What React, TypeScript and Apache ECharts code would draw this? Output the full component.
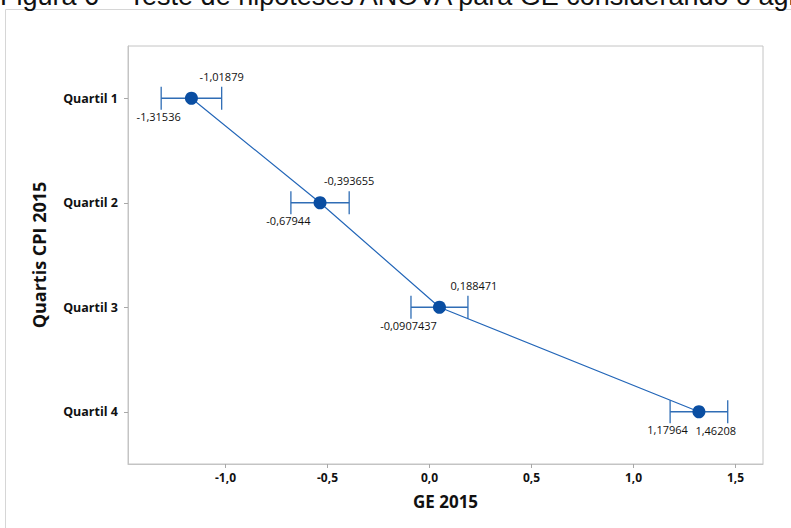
import React, { useEffect, useRef } from "react";
import * as echarts from "echarts";

const categories = ["Quartil 1", "Quartil 2", "Quartil 3", "Quartil 4"];
const lowerCI = [-1.31536, -0.67944, -0.0907437, 1.17964];
const upperCI = [-1.01879, -0.393655, 0.188471, 1.46208];
const means = [-1.16708, -0.53655, 0.04886, 1.32086];
const xTicks = [-1.0, -0.5, 0.0, 0.5, 1.0, 1.5];
const xAxisTitle = "GE 2015";
const yAxisTitle = "Quartis CPI 2015";
const captionText =
  "Figura 6 – Teste de hipóteses ANOVA para GE considerando o agrupamento por quartis";

const fmt = (v: number) => String(v).replace(".", ",");

export default function App() {
  const ref = useRef<HTMLDivElement>(null);
  useEffect(() => {
    if (!ref.current) return;
    const chart = echarts.init(ref.current, null, { renderer: "svg" });
    const labelFont = '11px "Open Sans"';
    const barColor = "#2f6db5";
    // placement rule for upper label: above right cap, except last (below, shifted)
    const upperBelow = (i: number) => i === categories.length - 1;
    const option: any = {
      animation: false,
      backgroundColor: "#ffffff",
      grid: {
        left: 128,
        top: 46,
        width: 635,
        height: 418,
        show: true,
        borderColor: "#c4c4c4",
        borderWidth: 1,
      },
      xAxis: {
        type: "value",
        min: -1.478,
        max: 1.635,
        name: xAxisTitle,
        nameLocation: "middle",
        nameGap: 29,
        nameTextStyle: {
          fontFamily: "Open Sans",
          fontWeight: "bold",
          fontSize: 17,
          color: "#111",
        },
        axisLine: { show: true, onZero: false, lineStyle: { color: "#c4c4c4" } },
        axisTick: {
          show: true,
          length: 4,
          customValues: xTicks,
          lineStyle: { color: "#a8a8a8" },
        },
        axisLabel: {
          customValues: xTicks,
          formatter: (v: number) => v.toFixed(1).replace(".", ","),
          fontFamily: "Open Sans",
          fontWeight: "bold",
          fontSize: 12,
          color: "#111",
          margin: 7,
        },
        splitLine: { show: false },
      },
      yAxis: {
        type: "category",
        data: categories,
        inverse: true,
        name: yAxisTitle,
        nameLocation: "middle",
        nameGap: 80,
        nameTextStyle: {
          fontFamily: "Open Sans",
          fontWeight: "bold",
          fontSize: 18,
          color: "#111",
        },
        axisLine: { show: true, onZero: false, lineStyle: { color: "#c4c4c4" } },
        axisTick: {
          show: true,
          alignWithLabel: true,
          length: 4,
          lineStyle: { color: "#a8a8a8" },
        },
        axisLabel: {
          fontFamily: "Open Sans",
          fontWeight: "bold",
          fontSize: 12.5,
          color: "#111",
          margin: 10,
        },
        splitLine: { show: false },
      },
      graphic: [
        {
          type: "rect",
          shape: { x: 5.5, y: 9.5, width: 900, height: 700 },
          style: { fill: "none", stroke: "#d6d6d6", lineWidth: 1 },
          silent: true,
        },
        {
          type: "text",
          x: 0,
          y: -4,
          style: {
            text: captionText,
            font: '27px "Liberation Sans"',
            fill: "#111",
            textAlign: "left",
            verticalAlign: "middle",
          },
          silent: true,
        },
      ],
      series: [
        {
          type: "custom",
          z: 2,
          data: categories.map((c, i) => [i, lowerCI[i], upperCI[i]]),
          encode: { x: [1, 2], y: 0 },
          renderItem: (params: any, api: any) => {
            const i = params.dataIndex;
            const cat = api.value(0);
            const lo = api.value(1);
            const hi = api.value(2);
            const pL = api.coord([lo, cat]);
            const pH = api.coord([hi, cat]);
            const y = pL[1];
            const cap = 11.5;
            const ls = { stroke: barColor, lineWidth: 1.3 };
            const below = upperBelow(i);
            return {
              type: "group",
              children: [
                { type: "line", shape: { x1: pL[0], y1: y, x2: pH[0], y2: y }, style: ls },
                { type: "line", shape: { x1: pL[0], y1: y - cap, x2: pL[0], y2: y + cap }, style: ls },
                { type: "line", shape: { x1: pH[0], y1: y - cap, x2: pH[0], y2: y + cap }, style: ls },
                {
                  type: "text",
                  x: pL[0] - 2.5,
                  y: y + 18,
                  style: {
                    text: fmt(lowerCI[i]),
                    font: labelFont,
                    fill: "#111",
                    textAlign: "center",
                    verticalAlign: "middle",
                  },
                },
                {
                  type: "text",
                  x: below ? pH[0] - 12 : pH[0] + (i === 2 ? 6 : 0),
                  y: below ? y + 19 : y - 22,
                  style: {
                    text: fmt(upperCI[i]),
                    font: labelFont,
                    fill: "#111",
                    textAlign: "center",
                    verticalAlign: "middle",
                  },
                },
              ],
            };
          },
        },
        {
          type: "line",
          z: 3,
          data: categories.map((c, i) => [means[i], i]),
          symbol: "circle",
          symbolSize: 13,
          itemStyle: { color: "#0a4ea2" },
          lineStyle: { color: "#2366b8", width: 1.2 },
          label: { show: false },
        },
      ],
    };
    chart.setOption(option);
    return () => chart.dispose();
  }, []);
  return (
    <div
      ref={ref}
      style={{ position: "fixed", left: 0, top: 0, width: 791, height: 528 }}
    />
  );
}
